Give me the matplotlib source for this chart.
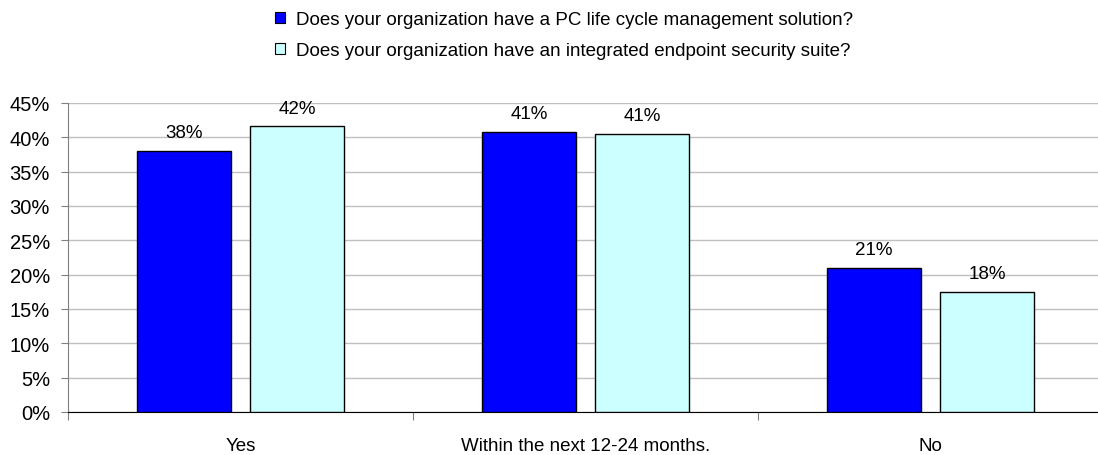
import matplotlib.pyplot as plt
import numpy as np
from matplotlib.patches import Patch

plt.rcParams["font.family"] = ["Liberation Sans", "DejaVu Sans"]

categories = ["Yes", "Within the next 12-24 months.", "No"]
series_names = [
    "Does your organization have a PC life cycle management solution?",
    "Does your organization have an integrated endpoint security suite?",
]
lifecycle = [38.0, 40.8, 21.0]
security = [41.6, 40.5, 17.5]
value_labels = [["38%", "41%", "21%"], ["42%", "41%", "18%"]]
colors = ["#0000FF", "#CCFFFF"]

FS = 13.5

fig = plt.figure(figsize=(10.98, 4.56), dpi=100)
ax = fig.add_axes([68 / 1098, 43 / 456, 1030 / 1098, 309 / 456])

x = np.arange(len(categories))
w = 0.272
off = 0.164
for vals, labs, col, sgn in zip([lifecycle, security], value_labels, colors, [-1, 1]):
    bars = ax.bar(x + sgn * off, vals, w, color=col, edgecolor="black", linewidth=1.0, zorder=3)
    for b, lab in zip(bars, labs):
        ax.annotate(lab, (b.get_x() + b.get_width() / 2, b.get_height()),
                    xytext=(0, 7), textcoords="offset points",
                    ha="center", va="bottom", fontsize=FS)

ax.set_xlim(-0.5, -0.5 + 1030 / 345)
ax.set_ylim(0, 45)
ax.set_yticks(np.arange(0, 46, 5))
ax.set_yticklabels([f"{v}%" for v in range(0, 46, 5)], fontsize=14.5)
ax.yaxis.grid(True, color="#c0c0c0", linewidth=1.0, zorder=0)
ax.tick_params(axis="y", length=5, color="#808080", pad=8)

ax.set_xticks([-0.5, 0.5, 1.5])
ax.set_xticklabels([])
ax.tick_params(axis="x", which="major", length=6, color="#808080", direction="out")
ax.set_xticks(x, minor=True)
ax.set_xticklabels(categories, minor=True, fontsize=FS)
ax.tick_params(axis="x", which="minor", length=0, pad=18)

for s in ["top", "right"]:
    ax.spines[s].set_visible(False)
ax.spines["left"].set_color("#808080")
ax.spines["bottom"].set_color("black")

handles = [Patch(facecolor=c, edgecolor="black", linewidth=0.8) for c in colors]
fig.legend(handles, series_names, loc="upper left", bbox_to_anchor=(258 / 1098, 1.01),
           frameon=False, fontsize=FS, handlelength=0.55, handleheight=0.55,
           handletextpad=0.6, labelspacing=0.75)

fig.savefig("out.png", dpi=100)
